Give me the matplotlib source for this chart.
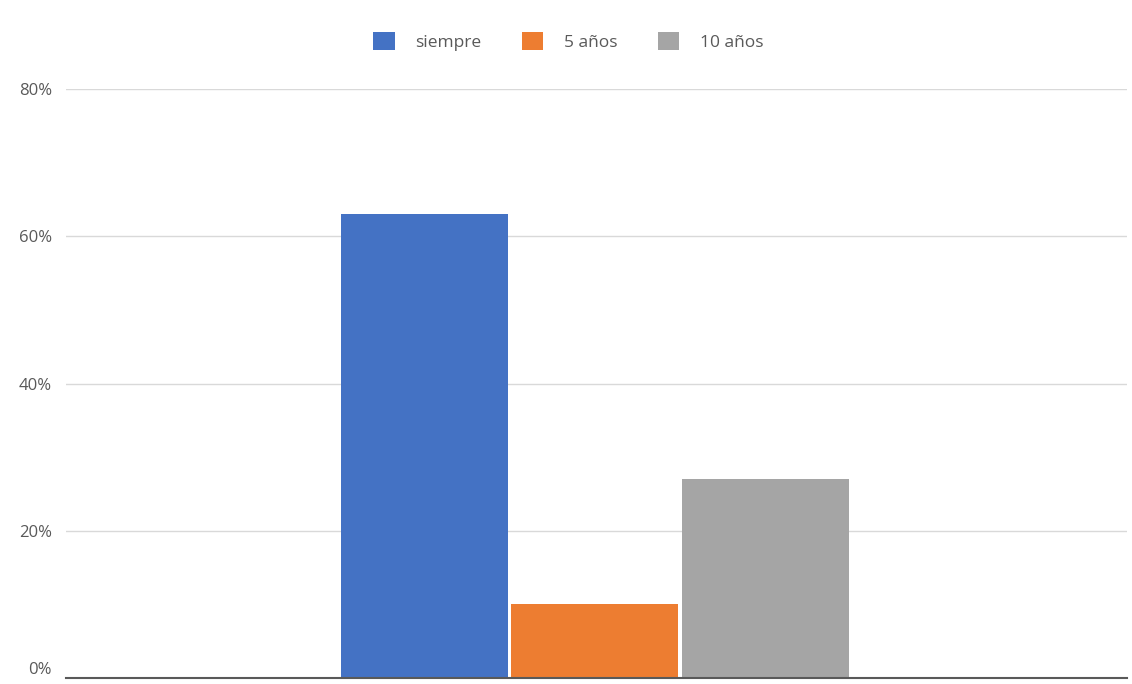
import matplotlib
matplotlib.use("Agg")
import matplotlib.pyplot as plt
from matplotlib.ticker import PercentFormatter
import numpy as np

series = ["siempre", "5 años", "10 años"]
values = [0.63, 0.10, 0.27]
colors = ["#4472C4", "#ED7D31", "#A5A5A5"]
yticks = [0, 0.2, 0.4, 0.6, 0.8]

plt.rcParams['font.family'] = ['Open Sans', 'DejaVu Sans']
fig = plt.figure(figsize=(11.32, 6.84), dpi=100)
ax = fig.add_axes([0.0583, 0.00877, 0.9373, 0.8611])

offsets = np.arange(len(series)) - (len(series) - 1) / 2
handles = []
for off, v, c, name in zip(offsets, values, colors, series):
    h = ax.bar(off, v, width=0.98, color=c, label=name, zorder=3)
    handles.append(h)

ax.set_xlim(-3.10, 3.12)
ax.set_ylim(0, 0.8)
ax.set_yticks(yticks)
ax.yaxis.set_major_formatter(PercentFormatter(1.0, decimals=0))
ax.set_xticks([])
ax.grid(axis='y', color='#D9D9D9', linewidth=1, zorder=0)
for s in ['top', 'right', 'left']:
    ax.spines[s].set_visible(False)
ax.spines['bottom'].set_color('#595959')
ax.spines['bottom'].set_linewidth(1.5)
ax.spines['bottom'].set_zorder(4)
ax.tick_params(axis='y', length=0, pad=10, labelsize=12, labelcolor='#595959')
for lbl in ax.get_yticklabels():
    lbl.set_clip_on(False)
ax.get_yticklabels()[0].set_va('bottom')

fig.legend(handles=handles, labels=series, loc='center', bbox_to_anchor=(0.502, 0.94),
           ncol=3, frameon=False, fontsize=12.5, labelcolor='#595959',
           handlelength=1.25, handleheight=1.25, columnspacing=2.3, handletextpad=1.2)

fig.savefig("out.png", dpi=100)
